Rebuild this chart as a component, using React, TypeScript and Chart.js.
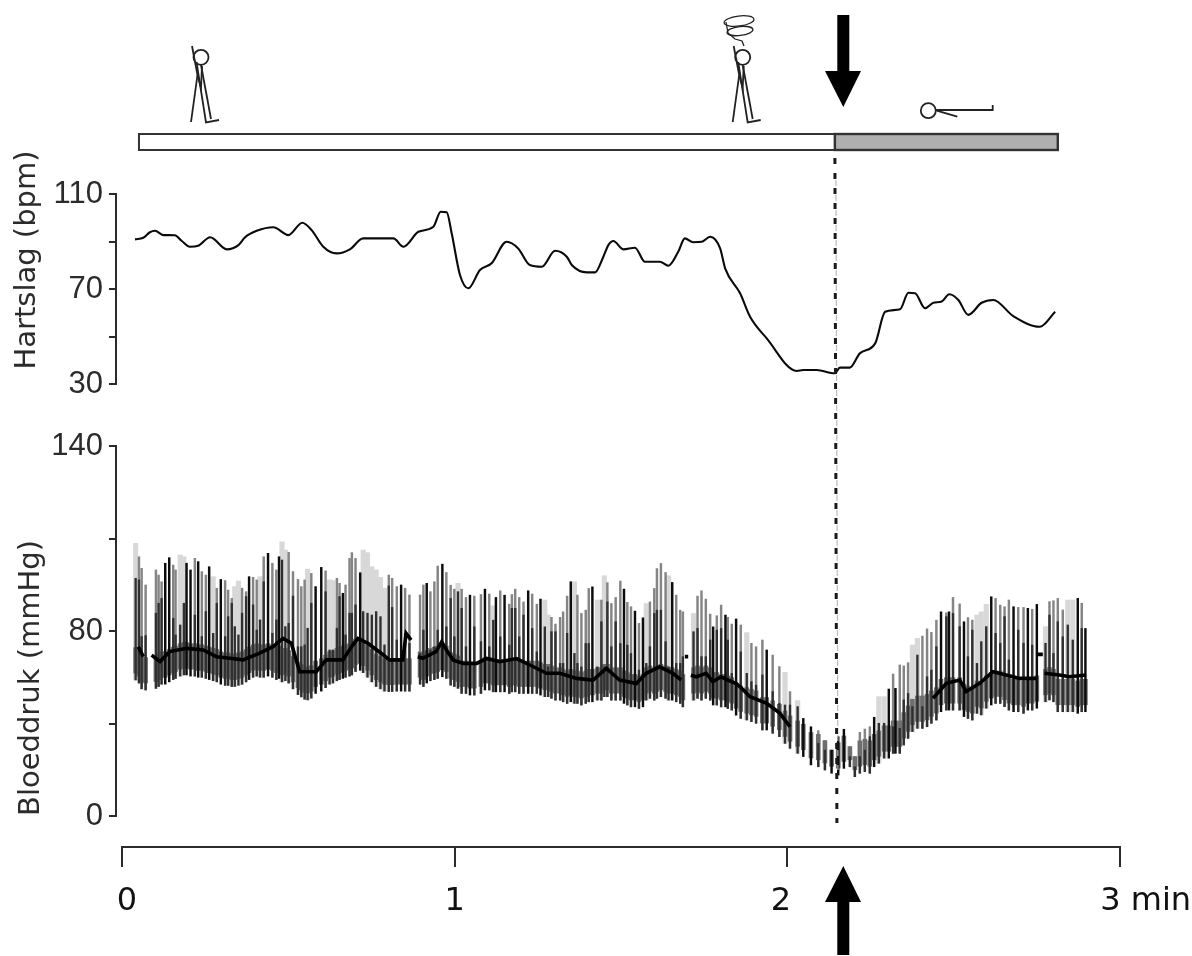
import React, { useEffect, useRef } from "react";
import { Chart, registerables } from "chart.js";

Chart.register(...registerables);

const W = 1192;
const H = 956;
const INK = "#2b2b2b";
const TICK_FONT = { family: "'Liberation Sans', Arial, sans-serif", size: 31 };
const TITLE_FONT = "'DejaVu Sans', sans-serif";

// Time axis
const timeTicks = [0, 1, 2, 3];
const timeLabels = ["0", "1", "2", "3 min"];
const timeLabelPositions = [0.015, 1.0, 1.981, 3.077];

// Posture phases (minutes)
const standingStart = 0.051;
const tiltMoment = 2.143;
const supineEnd = 2.813;

// Heart rate
const hrTicks: Record<number, string> = { 110: "110", 90: "", 70: "70", 50: "", 30: "30" };
const hrTimes = [0.039,0.064,0.084,0.099,0.124,0.159,0.179,0.204,0.229,0.265,0.315,0.35,0.37,0.405,0.455,0.5,0.542,0.57,0.605,0.645,0.685,0.725,0.766,0.816,0.846,0.891,0.936,0.958,0.976,0.991,1.016,1.041,1.076,1.111,1.156,1.191,1.226,1.262,1.302,1.337,1.352,1.397,1.422,1.447,1.462,1.477,1.507,1.542,1.572,1.617,1.642,1.672,1.692,1.717,1.743,1.768,1.798,1.813,1.858,1.888,1.938,2.028,2.048,2.088,2.143,2.158,2.188,2.218,2.264,2.294,2.339,2.364,2.384,2.414,2.439,2.464,2.487,2.514,2.544,2.584,2.619,2.679,2.759,2.805];
const hrValues = [90.9,91.6,93.9,94.5,92.7,92.6,90.3,87.8,88.2,91.8,86.7,88.5,91.8,94.5,96,92.7,97.9,94.8,87.8,85,86.7,91.3,91.3,91.3,87.8,94.1,96.2,102.5,102.3,93.5,75.9,70.3,78,80.8,89.9,87.1,80.1,79.4,86.1,83.6,80.1,77,77,83.6,88.5,90.2,86.7,87.4,81.5,81.5,79.8,85.7,91.3,89.7,89.9,92,87.1,78.7,68.2,58.3,49.2,35.5,35.9,35.9,34.5,36.9,36.9,42.9,47.1,60.4,61.5,68.4,68.2,61.9,64.2,64.7,67.8,65.4,59.1,64.2,65.4,58.6,54.1,60.4];

// Blood pressure: the axis carries equal steps, its top tick is printed as 140
const bpTickLabels = ["0", "", "80", "", "140"];
const beatTimes = [
  0.041,0.051,0.059,0.071,0.102,0.11,0.119,0.13,0.142,0.154,0.161,0.175,0.186,0.194,0.206,0.219,0.229,0.24,0.252,0.262,0.274,0.285,0.297,0.31,0.319,0.33,0.339,0.35,0.361,0.373,0.382,0.394,0.405,0.415,0.426,0.439,0.452,0.464,0.472,0.481,0.491,0.501,0.514,0.529,0.539,0.549,0.558,0.569,0.582,0.599,0.612,0.624,0.634,0.646,0.654,0.664,0.672,0.684,0.691,0.702,0.716,0.725,0.738,0.751,0.764,0.777,0.789,0.802,0.812,0.826,0.839,0.851,0.864,
  0.896,0.906,0.916,0.927,0.939,0.949,
  0.963,0.975,0.988,0.999,1.01,1.021,1.034,1.046,1.059,1.079,1.091,1.104,1.116,1.124,1.137,1.15,1.164,1.172,1.182,1.194,1.207,1.221,1.233,1.247,1.258,1.271,1.281,1.291,1.303,1.317,1.326,1.338,1.349,1.36,1.369,1.381,1.394,1.403,1.414,1.429,1.441,1.45,1.459,1.471,1.484,1.498,1.509,1.519,1.53,1.542,1.554,1.566,1.576,1.587,1.6,1.608,1.62,1.634,1.643,1.654,1.666,1.678,1.686,
  1.718,1.73,1.742,1.755,1.768,1.777,1.788,1.801,1.814,1.821,1.833,1.846,
  1.86,1.878,1.892,1.906,1.925,1.938,1.956,1.976,1.993,2.008,2.031,2.048,2.071,2.093,2.113,2.133,2.153,2.17,2.188,2.203,2.218,2.233,2.248,2.261,2.275,2.291,2.305,2.318,2.325,2.338,2.35,2.363,2.376,2.391,2.406,2.42,2.433,2.448,2.462,2.478,2.486,2.498,2.518,2.531,2.543,2.556,2.57,2.583,2.598,2.613,2.626,2.64,2.653,2.666,2.68,2.694,2.71,2.723,2.736,2.75,
  2.776,2.788,2.8,2.813,2.828,2.843,2.858,2.873,2.885,2.896,
];
const beatHigh = [
  117.9,112.1,107.1,99.9,106.4,104.2,101.3,109.3,111.7,108.5,106.4,112.9,112.1,109.3,106.4,111.4,110,105.7,104.2,107.8,103.5,98.5,102.3,101.8,97.7,94.1,99.2,101.6,98.5,97,103.5,103.2,102.1,103.5,112.1,113.6,109.3,106.4,112.1,118.6,115,114,105.7,102.3,99.2,102.1,106.8,104.9,99.2,107.5,106,102.1,101.8,102.8,100.6,96.3,99.9,111.4,113.9,111.4,105.2,115,113.9,107.8,106.4,103.2,98.5,104.2,102.8,99.2,99.9,98.5,95.6,
  95.6,99.9,100.6,97,101.3,108.1,
  108.9,105.3,99.8,98.1,100.6,98.1,94.5,95.5,95.1,95.8,98.1,96,90.9,94.5,97.4,95.5,91.6,95.8,98.1,94.5,92.6,97.4,96,91.6,93.8,93.4,86.9,85.9,83,85.9,88.3,95.1,101.3,101.3,95.5,87.6,89,98.4,99.1,93.4,93.4,103.9,100.9,91.9,94.5,101.6,98.1,92.4,90.5,88.6,83.3,85.7,91.9,92.6,98.4,107,109.2,105.3,103.9,101,95.5,89,88.3,
  87.6,95.1,97.4,93.8,87.3,81.8,86.6,91.2,86.9,85.9,83,85.2,
  82.6,79.3,74.7,73.2,76.1,71.8,69.6,64.6,62.1,53.8,49.9,42.2,38.6,36.9,32.6,28.5,34.3,37.5,30,25.7,36.2,37.6,38.6,42.7,51.6,51.6,54.9,61.4,55.2,65.3,64.9,66.3,73.9,76.8,77.8,80.9,79.4,84.7,88.3,87.9,88.3,94.5,91.7,84,85.8,84.7,86.9,88.3,91.5,94.8,94.1,91.2,90.5,93.4,90.5,90.2,90.2,89.8,89.4,91.5,
  81.9,92.7,93.1,94.1,89.1,93.4,93.4,94.1,92,81.1,
];
const beatLow = [
  58.8,57.5,55,54.5,55.2,56,57,57,58,59,59.5,60.5,61,61,60.5,60.5,60,60,59.5,59,58.5,58,57,56.5,56.5,56,56,56.5,57,58,59,60,60.5,60,60,60.5,60,59,59.5,58,58.5,57.5,55,52.5,51.5,50.5,50.2,51,53,54,55.5,57,57.5,58.5,59,59.5,60,60.5,61,62.5,63,62,60,58,56,55,54,53.8,53.8,54,54,54,54,
  57,56,57.5,58.5,59,59.5,
  60.2,59.5,56.6,56,55.2,53,53,52.3,52.3,53,54.5,54.5,53.7,53.7,53.7,53.7,53,53.7,53.7,53,53,53,53,53,52.3,51.6,51.6,50.9,50.1,50.1,49.4,48.7,49.4,48.7,48.7,48,48.7,49.4,49.4,50.1,50.1,51.6,51.6,50.1,50.1,50.1,48.7,48,47.2,47.2,46.5,47.2,50.1,50.9,50.1,50.9,51.6,50.9,50.1,50.1,49.4,48.7,47.2,
  50.1,50.9,50.1,50.9,50.1,48,48,47.2,47.2,46.5,45.8,43.6,
  42.2,41.5,40.8,40.1,37.2,37.2,35.8,34.3,31.4,29.3,27.1,25.7,22.1,21.3,19.9,18.5,17.7,20.6,21.3,17,18.5,19.2,18.5,21.3,22.8,25,25,27.1,27.1,27.1,30.7,33.6,36.5,37.9,37.9,38.6,40.1,41.5,45.1,45.8,45.8,45.8,45.8,43,42.2,41.5,44.4,43.7,46.6,48,48.7,48.7,47.3,45.8,45.1,45.1,44.4,45.8,45.8,46.6,
  49.4,50.2,49.4,45.1,45.1,45.1,45.1,44.4,45.1,45.1,
];
const beatCore = [
  102.8,102.1,77.6,78,87.7,92,94.1,109.3,111.7,85.5,78.3,82.6,92,106.4,91.3,86.9,104.9,77.6,88.4,107.8,79,92,102.3,77.6,86.2,92,81.9,78.3,87.7,94.9,103.5,91.3,80.4,84.8,101.3,109.3,79,84.8,99.9,110.7,81.9,83.3,95.1,73.2,73.2,74,81.2,92,99.2,107.5,97,71.8,71.8,81.2,94.9,94.9,78.3,87.7,87.7,91.3,105.2,88.4,87.7,86.9,88.4,86.2,74,99.5,90.2,76.1,99.9,79,74.7,
  70.4,80.4,100.6,71.8,73.2,80.4,
  108.9,81.8,94.1,77.5,97,89.8,73.2,95.5,81.8,75.4,98.1,73.2,84.7,94.5,77.5,95.5,73.9,89.8,89.8,77.5,86.9,97.4,81.1,71,93.8,81.8,64.5,79.7,79.7,66,66,79,101.3,70.3,66,64.5,74.6,74.6,99.1,64.5,84,64.5,92.6,73.2,84,74.6,98.1,73.9,70.3,88.6,63.1,85.7,66,73.2,87.6,89,89,75.4,64.5,101,66,66,68.9,
  79.7,81.1,68.9,68.9,76.1,80.4,80.4,81.1,86.9,76.1,61.7,85.2,
  71,61.7,58.1,56.6,61,71.8,53.8,48.7,48,48,47.3,42.2,38.6,31.4,28.5,28.5,34.3,37.5,25.7,21.3,25.7,28.5,34.3,42.7,40.1,40.1,54.9,38.6,55.2,37.9,50.2,53,47.3,69.6,47.3,60.2,63.1,73.2,86.2,86.2,88.3,87.6,81.9,84,68.9,80.4,66,75.4,81.9,94.8,79,74.7,86.2,67.5,84.7,80.4,74.7,89.8,73.9,91.5,
  74.7,86.9,70.3,84,77.5,82.6,76.1,91.2,81.1,81.1,
];
// 0 pale, 1 mid grey, 2 black
const beatShade = [
  0,1,1,1,1,1,1,2,2,1,1,0,0,2,2,1,2,1,1,2,0,1,2,1,1,1,0,0,1,1,2,1,1,0,1,2,1,1,2,0,0,1,1,1,1,1,0,1,2,2,1,0,0,1,1,2,1,1,1,1,2,0,0,0,0,0,0,1,1,1,2,1,1,
  1,1,2,1,1,1,
  2,1,1,1,0,1,1,2,1,1,2,1,0,2,1,2,1,1,1,1,1,2,1,1,2,0,0,1,1,1,1,1,2,0,1,1,1,1,2,0,1,0,1,1,1,1,2,1,1,2,1,2,0,1,1,1,1,1,0,2,1,1,1,
  0,1,1,1,1,2,1,1,2,1,1,2,
  1,0,1,1,1,2,1,1,0,1,0,2,2,1,1,2,2,2,1,1,1,1,1,2,0,0,2,1,2,1,1,1,0,0,1,1,1,1,2,1,2,1,1,2,1,1,0,0,0,2,1,1,1,1,2,1,1,2,1,2,
  0,1,1,1,1,0,0,2,1,2,
];
const meanTimes = [0.049,0.064,0.08,0.089,0.114,0.144,0.194,0.244,0.284,0.324,0.364,0.414,0.454,0.484,0.509,0.534,0.584,0.614,0.664,0.694,0.709,0.739,0.779,0.804,0.844,0.854,0.869,0.88,0.889,0.904,0.944,0.961,0.976,0.996,1.026,1.066,1.096,1.136,1.186,1.226,1.276,1.316,1.366,1.416,1.456,1.496,1.546,1.576,1.616,1.656,1.681,1.688,1.692,1.702,1.706,1.71,1.726,1.756,1.776,1.801,1.821,1.846,1.858,1.888,1.938,1.978,2.008,2.2,2.438,2.478,2.518,2.538,2.578,2.618,2.658,2.698,2.748,2.75,2.753,2.768,2.77,2.773,2.818,2.848,2.898];
const meanValues: (number | null)[] = [73.2,68.9,null,69.6,66.8,71.1,72.5,71.8,68.9,68.2,67.5,70.4,73.2,76.8,74.7,62.4,62.4,67.5,67.5,74,76.8,74.7,70.4,67.5,67.5,79,76.1,null,68.9,68.2,71.1,75.3,71.7,67.4,66,66,68.1,66.7,68.1,65.3,61.7,61.7,59.5,58.8,63.8,58.8,57.3,61.7,64.5,61.7,58.8,null,68.9,68.9,null,60.9,60.2,61.7,58.1,60.2,58.8,57.3,55.9,51.6,48.7,44.4,38.6,null,50.9,57.4,58.8,53.8,57.4,62.4,61,59.5,59.5,null,69.9,69.9,null,61.7,61,60.2,61];

const xPerMinute = 332.67;
const hiddenX = {
  type: "linear" as const,
  display: false,
  offset: false,
  min: -6 / xPerMinute,
  max: 3,
};
const clearPadding = (s: any) => {
  s.paddingTop = 0;
  s.paddingBottom = 0;
  s.paddingLeft = 0;
  s.paddingRight = 0;
};
const axisLook = {
  border: { color: INK, width: 2 },
  grid: { drawOnChartArea: false, drawTicks: true, tickLength: 7, color: INK, lineWidth: 2 },
};
const baseOptions = {
  responsive: false,
  animation: false as const,
  devicePixelRatio: 1,
  events: [] as string[],
};
const noLegend = { legend: { display: false }, tooltip: { enabled: false }, title: { display: false } };

const beats = beatTimes.map((t, i) => ({ t, hi: beatHigh[i], lo: beatLow[i], core: beatCore[i], shade: beatShade[i] }));
const barSet = (data: any[], color: string, thickness: number) => ({
  type: "bar" as const,
  data,
  backgroundColor: color,
  barThickness: thickness,
  grouped: false,
});

const hrTitlePlugin = {
  id: "hrTitle",
  afterDraw(chart: any) {
    const c = chart.ctx;
    c.save();
    c.translate(27, 260);
    c.rotate(-Math.PI / 2);
    c.font = `29px ${TITLE_FONT}`;
    c.fillStyle = INK;
    c.textAlign = "center";
    c.textBaseline = "middle";
    c.fillText("Hartslag (bpm)", 0, 0);
    c.restore();
  },
};

const overlayPlugin = {
  id: "overlay",
  afterDraw(chart: any) {
    const c = chart.ctx;
    const px = (t: number) => chart.scales.x.getPixelForValue(t);
    c.save();
    // posture bar
    c.lineWidth = 2;
    c.strokeStyle = "#333";
    c.fillStyle = "#fff";
    c.fillRect(px(standingStart), 134, px(tiltMoment) - px(standingStart), 16);
    c.strokeRect(px(standingStart), 134, px(tiltMoment) - px(standingStart), 16);
    c.fillStyle = "#b0b0b0";
    c.fillRect(px(tiltMoment), 134, px(supineEnd) - px(tiltMoment), 16);
    c.lineWidth = 2.4;
    c.strokeRect(px(tiltMoment), 134, px(supineEnd) - px(tiltMoment), 16);

    // dashed marker
    c.strokeStyle = "#bbb";
    c.lineWidth = 1.2;
    c.setLineDash([6, 9]);
    c.lineDashOffset = -8;
    c.beginPath();
    c.moveTo(px(tiltMoment) + 1, 172);
    c.lineTo(px(tiltMoment) + 3, 770);
    c.stroke();
    c.strokeStyle = "#1a1a1a";
    c.lineWidth = 3;
    c.setLineDash([6, 9]);
    c.lineDashOffset = 0;
    c.beginPath();
    c.moveTo(px(tiltMoment), 158);
    c.lineTo(px(tiltMoment) + 2, 823);
    c.stroke();
    c.setLineDash([]);

    // arrows
    c.fillStyle = "#000";
    c.fillRect(837.3, 15, 12, 57);
    c.beginPath();
    c.moveTo(825, 71);
    c.lineTo(861, 71);
    c.lineTo(843.3, 107);
    c.closePath();
    c.fill();
    c.fillRect(837.3, 900, 12, 55);
    c.beginPath();
    c.moveTo(825, 902);
    c.lineTo(861, 902);
    c.lineTo(843.3, 866);
    c.closePath();
    c.fill();

    // figures
    c.strokeStyle = "#222";
    c.lineWidth = 1.8;
    const line = (pts: number[][]) => {
      c.beginPath();
      pts.forEach((p, i) => (i ? c.lineTo(p[0], p[1]) : c.moveTo(p[0], p[1])));
      c.stroke();
    };
    const standing = (dx: number) => {
      c.beginPath();
      c.arc(201 + dx, 57.3, 7.5, 0, Math.PI * 2);
      c.stroke();
      line([[192 + dx, 46], [197.5 + dx, 75]]);
      line([[191 + dx, 122], [197.5 + dx, 75]]);
      line([[196.5 + dx, 62], [206 + dx, 122.5], [219 + dx, 120]]);
      line([[201 + dx, 65], [211 + dx, 119]]);
      line([[197.5 + dx, 75], [201 + dx, 88], [202 + dx, 66]]);
    };
    standing(0);
    standing(541.7);
    // dizziness coil
    c.lineWidth = 1.3;
    c.beginPath();
    c.ellipse(739, 21, 15, 5, -0.12, 0, Math.PI * 2);
    c.stroke();
    c.beginPath();
    c.ellipse(740, 31, 13, 4.5, -0.12, 0, Math.PI * 2);
    c.stroke();
    line([[726, 22], [728, 33], [735, 39], [742, 41], [744, 46]]);
    // supine figure
    c.lineWidth = 1.8;
    c.beginPath();
    c.arc(928.3, 110.7, 7.5, 0, Math.PI * 2);
    c.stroke();
    line([[936, 110], [992.7, 110], [992.7, 105]]);
    line([[936.7, 110.7], [957.3, 116.7]]);
    c.restore();
  },
};

export default function App() {
  const hrRef = useRef<HTMLCanvasElement>(null);
  const bpRef = useRef<HTMLCanvasElement>(null);
  const topRef = useRef<HTMLCanvasElement>(null);

  useEffect(() => {
    const hr = new Chart(hrRef.current!, {
      type: "line",
      data: {
        datasets: [
          {
            data: hrTimes.map((x, i) => ({ x, y: hrValues[i] })),
            borderColor: "#0a0a0a",
            borderWidth: 2.1,
            pointRadius: 0,
            cubicInterpolationMode: "monotone",
          },
        ],
      },
      options: {
        ...baseOptions,
        layout: { padding: { left: 9, right: W - 1120, top: 194, bottom: 520 - 384 } },
        plugins: noLegend,
        scales: {
          x: hiddenX,
          y: {
            min: 30,
            max: 110,
            ...axisLook,
            afterFit: (s: any) => {
              s.width = 107;
              clearPadding(s);
            },
            ticks: {
              stepSize: 20,
              padding: 6,
              color: INK,
              font: TICK_FONT,
              callback: (v: any) => hrTicks[v] ?? "",
            },
          },
        },
      },
      plugins: [hrTitlePlugin],
    } as any);

    const bp = new Chart(bpRef.current!, {
      type: "bar",
      data: {
        datasets: [
          {
            type: "line",
            data: meanTimes.map((x, i) => ({ x, y: meanValues[i] })),
            borderColor: "#000",
            borderWidth: 3.6,
            pointRadius: 0,
            tension: 0,
            spanGaps: false,
          },
          barSet(beats.filter((b) => b.shade === 2).map((b) => ({ x: b.t, y: [b.lo, b.hi] })), "#0c0c0c", 1.8),
          barSet(beats.filter((b) => b.shade !== 2).map((b) => ({ x: b.t, y: [b.lo, b.core] })), "#303030", 1.7),
          barSet(
            beats.map((b) => ({ x: b.t, y: [b.lo + 3, Math.min(b.hi, b.lo + 14)] })),
            "#6e6e6e",
            4,
          ),
          barSet(beats.filter((b) => b.shade === 1).map((b) => ({ x: b.t, y: [b.lo, b.hi] })), "#858585", 1.8),
          barSet(beats.filter((b) => b.shade === 0).map((b) => ({ x: b.t, y: [b.lo, b.hi] })), "#d8d8d8", 4.5),
        ],
      },
      options: {
        ...baseOptions,
        layout: { padding: { left: 14, right: W - 1120, top: 446, bottom: H - 816 } },
        plugins: noLegend,
        scales: {
          x: hiddenX,
          y: {
            min: 0,
            max: 160,
            ...axisLook,
            title: {
              display: true,
              text: "Bloeddruk (mmHg)",
              align: "start",
              color: INK,
              padding: 0,
              font: { family: TITLE_FONT, size: 29 },
            },
            afterFit: (s: any) => {
              s.width = 102;
              clearPadding(s);
            },
            ticks: {
              stepSize: 40,
              padding: 6,
              color: INK,
              font: TICK_FONT,
              callback: (_v: any, i: number) => bpTickLabels[i],
            },
          },
        },
      },
    } as any);

    const top = new Chart(topRef.current!, {
      type: "line",
      data: { datasets: [] },
      options: {
        ...baseOptions,
        layout: { padding: { left: 122, right: W - 1120, top: 0, bottom: 0 } },
        plugins: noLegend,
        scales: {
          y: { display: false, min: 0, max: 1 },
          x: {
            type: "linear",
            position: "bottom",
            min: 0,
            max: 3,
            border: { color: INK, width: 2 },
            grid: { drawOnChartArea: false, drawTicks: true, tickLength: 20, color: INK, lineWidth: 2 },
            ticks: { display: false },
            afterBuildTicks: (s: any) => {
              s.ticks = timeTicks.map((value) => ({ value }));
            },
            afterFit: (s: any) => {
              s.height = 20;
              clearPadding(s);
            },
          },
          xLabels: {
            type: "linear",
            position: "bottom",
            min: 0,
            max: 3,
            border: { display: false },
            grid: { display: false, drawTicks: false },
            ticks: {
              autoSkip: false,
              maxRotation: 0,
              padding: 15,
              color: "#111",
              font: { family: TITLE_FONT, size: 32 },
              callback: (_v: any, i: number) => timeLabels[i],
            },
            afterBuildTicks: (s: any) => {
              s.ticks = timeLabelPositions.map((value) => ({ value }));
            },
            afterFit: (s: any) => {
              s.height = H - 847 - 20;
              clearPadding(s);
            },
          },
        },
      },
      plugins: [overlayPlugin],
    } as any);

    return () => {
      hr.destroy();
      bp.destroy();
      top.destroy();
    };
  }, []);

  const layer: React.CSSProperties = { position: "absolute", left: 0, top: 0, display: "block" };
  return (
    <div style={{ position: "absolute", left: 0, top: 0, width: W, height: H, background: "#fff", overflow: "hidden" }}>
      <canvas ref={bpRef} width={W} height={H} style={{ ...layer, filter: "blur(0.4px)" }} />
      <canvas ref={hrRef} width={W} height={520} style={layer} />
      <canvas ref={topRef} width={W} height={H} style={layer} />
    </div>
  );
}
